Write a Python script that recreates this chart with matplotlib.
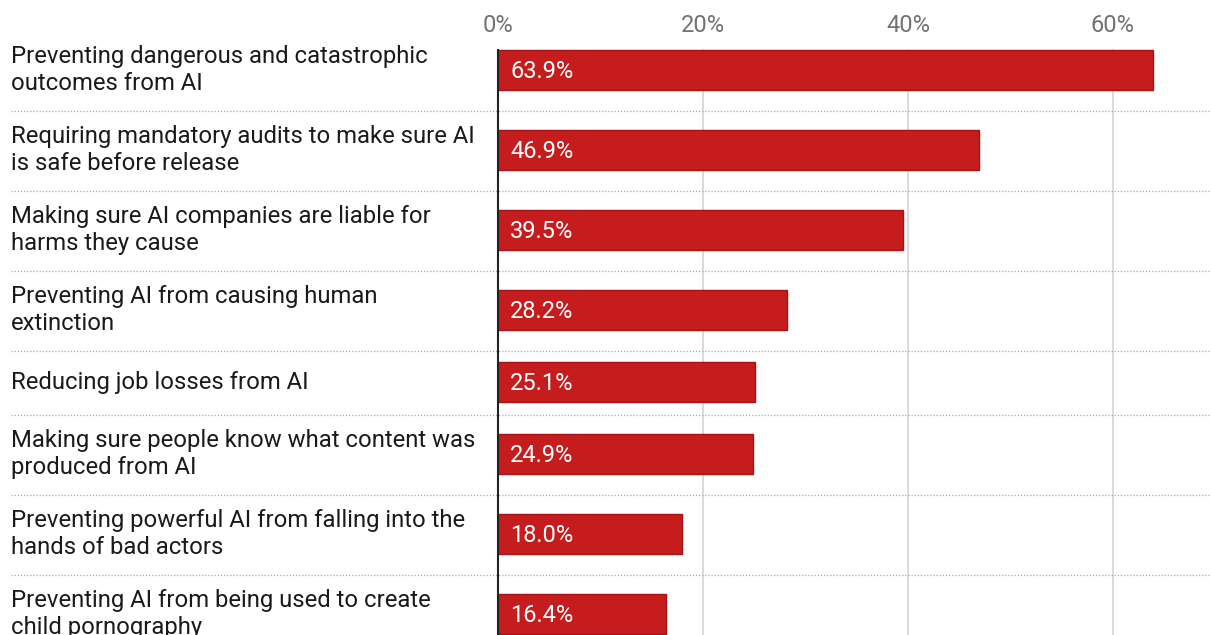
import matplotlib.pyplot as plt

# data
labels = [
    "Preventing dangerous and catastrophic\noutcomes from AI",
    "Requiring mandatory audits to make sure AI\nis safe before release",
    "Making sure AI companies are liable for\nharms they cause",
    "Preventing AI from causing human\nextinction",
    "Reducing job losses from AI",
    "Making sure people know what content was\nproduced from AI",
    "Preventing powerful AI from falling into the\nhands of bad actors",
    "Preventing AI from being used to create\nchild pornography",
]
values = [63.9, 46.9, 39.5, 28.2, 25.1, 24.9, 18.0, 16.4]
ticks = [0, 20, 40, 60]

plt.rcParams['font.family'] = ['Roboto', 'DejaVu Sans']

W, H = 1211, 635
fig = plt.figure(figsize=(W / 100, H / 100), dpi=100)
ax = fig.add_axes([0, 0, 1, 1])

# pixel layout: x=0% at 498px, 10.25px per percent
x0_px = 498
px_per = 10.25
ax.set_xlim(-x0_px / px_per, (W - x0_px) / px_per)
ax.set_ylim(H, 0)
ax.axis('off')

# row heights depend on number of label lines
top = 31
bounds = [top]
for lab in labels:
    h = 80 if "\n" in lab else 64
    bounds.append(bounds[-1] + h)
centers = [(bounds[i] + bounds[i + 1]) / 2 - 1 for i in range(len(labels))]

label_x = -x0_px / px_per + 11 / px_per
xmax = (W - x0_px) / px_per

# separators
for b in bounds[1:-1]:
    ax.plot([label_x, xmax], [b, b], color='#a8a8a8', lw=0.9, ls=(0, (1, 1.5)), zorder=1)

# vertical grid
bar_top = centers[0] - 20
for t in ticks[1:]:
    ax.plot([t, t], [bar_top, H], color='#d4d4d4', lw=1.2, zorder=0)

ax.barh(centers, values, height=40, color='#c51c1e', edgecolor='#a81214', lw=1, zorder=2)
ax.plot([0, 0], [bar_top, H], color='#222222', lw=1.5, zorder=3)

for c, v, lab in zip(centers, values, labels):
    ax.text(1.2, c + 1, f"{v:.1f}%", color='white', fontsize=17, va='center', ha='left', zorder=4)
    ax.text(label_x, c, lab, color='#1a1a1a', fontsize=17.2, va='center', ha='left', linespacing=1.17)

for t in ticks:
    ax.text(t, 25, f"{t}%", color='#727272', fontsize=17, va='center', ha='center')

fig.savefig("out.png", dpi=100, facecolor='white')
